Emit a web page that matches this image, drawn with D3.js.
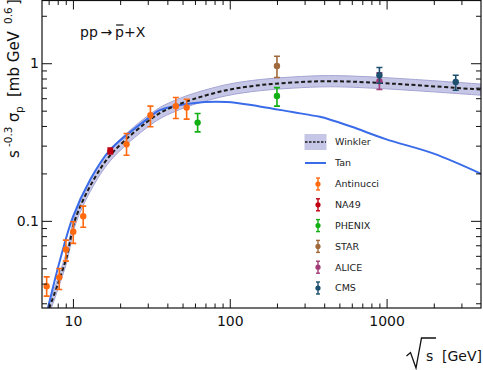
<!DOCTYPE html>
<html>
<head>
<meta charset="utf-8">
<style>
  body { margin: 0; background: #fff; }
  svg text { font-family: "DejaVu Sans", sans-serif; fill: #111; }
  .tick line { stroke: #111; stroke-width: 1px; }
  .tick text { font-size: 14px; }
  .legend text { font-size: 9.5px; fill: #222; }
</style>
</head>
<body>
<script src="https://d3js.org/d3.v7.min.js"></script>
<script>
// Winkler fit (dashed) and its band
var winklerS  = [7.07, 9.12, 10.3, 13.5, 18.1, 34.1, 45.6, 58, 95, 155, 251, 433, 900, 4000];
var winklerV  = [0.028, 0.059, 0.101, 0.181, 0.274, 0.468, 0.54, 0.59, 0.674, 0.726, 0.754, 0.769, 0.75, 0.68];
var winklerLo = [0.0258, 0.0544, 0.0931, 0.1668, 0.2525, 0.4313, 0.4977, 0.5438, 0.6212, 0.6691, 0.6949, 0.7088, 0.6912, 0.6267];
var winklerHi = [0.0304, 0.064, 0.1096, 0.1964, 0.2973, 0.5078, 0.5859, 0.6402, 0.7313, 0.7877, 0.8181, 0.8344, 0.8138, 0.7378];

// Tan curve
var tanS = [6.93, 8.26, 10, 12.83, 17.2, 30.9, 35.8, 58, 95.6, 155, 251, 375, 433, 600, 988, 2000, 4000];
var tanV = [0.028, 0.056, 0.106, 0.181, 0.281, 0.455, 0.504, 0.558, 0.568, 0.532, 0.49, 0.457, 0.44, 0.395, 0.33, 0.267, 0.199];

// measurements: sqrt(s), value, upper, lower
var antinucciS  = [6.8, 8.18, 9.02, 10.05, 11.63, 21.97, 31.2, 45.3, 53.1];
var antinucciV  = [0.0385, 0.0438, 0.0659, 0.0852, 0.107, 0.306, 0.468, 0.534, 0.524];
var antinucciHi = [0.0441, 0.0499, 0.0755, 0.0986, 0.124, 0.358, 0.534, 0.606, 0.591];
var antinucciLo = [0.0333, 0.0367, 0.0555, 0.072, 0.091, 0.261, 0.395, 0.446, 0.442];

var na49S = [17.3], na49V = [0.278], na49Hi = [0.29], na49Lo = [0.266];
var phenixS = [62.4, 200], phenixV = [0.42, 0.62], phenixHi = [0.48, 0.70], phenixLo = [0.367, 0.534];
var starS = [200], starV = [0.961], starHi = [1.107], starLo = [0.812];
var aliceS = [900], aliceV = [0.769], aliceHi = [0.868], aliceLo = [0.681];
var cmsS = [900, 2760], cmsV = [0.839, 0.761], cmsHi = [0.939, 0.839], cmsLo = [0.747, 0.674];

var xMajor = [10, 100, 1000];
var xMinor = [7, 8, 9, 20, 30, 40, 50, 60, 70, 80, 90, 200, 300, 400, 500, 600, 700, 800, 900, 2000, 3000];
var yMajor = [0.1, 1];
var yMinor = [0.03, 0.04, 0.05, 0.06, 0.07, 0.08, 0.09, 0.2, 0.3, 0.4, 0.5, 0.6, 0.7, 0.8, 0.9, 2];

var sets = [
  { name: "Antinucci", color: "#ff6a10", s: antinucciS, v: antinucciV, hi: antinucciHi, lo: antinucciLo },
  { name: "NA49",      color: "#c00010", s: na49S, v: na49V, hi: na49Hi, lo: na49Lo },
  { name: "PHENIX",    color: "#12b012", s: phenixS, v: phenixV, hi: phenixHi, lo: phenixLo },
  { name: "STAR",      color: "#a06a3c", s: starS, v: starV, hi: starHi, lo: starLo },
  { name: "ALICE",     color: "#a23c78", s: aliceS, v: aliceV, hi: aliceHi, lo: aliceLo },
  { name: "CMS",       color: "#1d4f6e", s: cmsS, v: cmsV, hi: cmsHi, lo: cmsLo }
];

var W = 483, H = 370;
var pLeft = 42, pRight = 481, pTop = 0.5, pBottom = 308;

var svg = d3.select("body").append("svg")
    .attr("width", W).attr("height", H);

var x = d3.scaleLog().domain([6.35, 4000]).range([pLeft, pRight]);
var y = d3.scaleLog().domain([0.028, 2.5]).range([pBottom, pTop]);

svg.append("clipPath").attr("id", "plotclip")
  .append("rect")
    .attr("x", pLeft).attr("y", pTop)
    .attr("width", pRight - pLeft).attr("height", pBottom - pTop);

var plot = svg.append("g").attr("clip-path", "url(#plotclip)");

// band
var band = winklerS.map(function (s, i) { return { s: s, lo: winklerLo[i], hi: winklerHi[i] }; });
plot.append("path")
    .datum(band)
    .attr("d", d3.area()
      .x(function (d) { return x(d.s); })
      .y0(function (d) { return y(d.lo); })
      .y1(function (d) { return y(d.hi); })
      .curve(d3.curveCatmullRom.alpha(0.5)))
    .style("fill", "#c6c6e6")
    .style("stroke", "#a4a4d4")
    .style("stroke-width", "1px");

// Tan
var line = d3.line()
    .x(function (d) { return x(d[0]); })
    .y(function (d) { return y(d[1]); })
    .curve(d3.curveCatmullRom.alpha(0.5));

plot.append("path")
    .attr("d", line(d3.zip(tanS, tanV)))
    .style("fill", "none")
    .style("stroke", "#3a6cea")
    .style("stroke-width", "2px");

// Winkler
plot.append("path")
    .attr("d", line(d3.zip(winklerS, winklerV)))
    .style("fill", "none")
    .style("stroke", "#1a1a1a")
    .style("stroke-width", "2px")
    .style("stroke-dasharray", "4,2.5");

// error bar points
function errorBars(g, set) {
  set.s.forEach(function (s, i) {
    var px = x(s);
    var e = g.append("g").style("stroke", set.color).style("stroke-width", "1.6px");
    e.append("line").attr("x1", px).attr("x2", px).attr("y1", y(set.lo[i])).attr("y2", y(set.hi[i]));
    e.append("line").attr("x1", px - 3).attr("x2", px + 3).attr("y1", y(set.lo[i])).attr("y2", y(set.lo[i]));
    e.append("line").attr("x1", px - 3).attr("x2", px + 3).attr("y1", y(set.hi[i])).attr("y2", y(set.hi[i]));
    g.append("circle").attr("cx", px).attr("cy", y(set.v[i])).attr("r", 3.2)
      .style("fill", set.color);
  });
}
sets.forEach(function (set) { errorBars(plot, set); });

// axes
function addAxis(axis, tx, ty, cls) {
  var g = svg.append("g").attr("class", cls)
      .attr("transform", "translate(" + tx + "," + ty + ")")
      .call(axis);
  g.select(".domain").remove();
  return g;
}

addAxis(d3.axisBottom(x).tickValues(xMajor).tickSize(-9).tickPadding(8).tickFormat(d3.format("d")), 0, pBottom, "x-axis");
addAxis(d3.axisBottom(x).tickValues(xMinor).tickSize(-4.5).tickFormat(""), 0, pBottom, "x-minor");
addAxis(d3.axisTop(x).tickValues(xMajor).tickSize(-9).tickFormat(""), 0, pTop, "x-top");
addAxis(d3.axisTop(x).tickValues(xMinor).tickSize(-4.5).tickFormat(""), 0, pTop, "x-top-minor");

addAxis(d3.axisLeft(y).tickValues(yMajor).tickSize(-10).tickPadding(3).tickFormat(d3.format("")), pLeft, 0, "y-axis");
addAxis(d3.axisLeft(y).tickValues(yMinor).tickSize(-5).tickFormat(""), pLeft, 0, "y-minor");
addAxis(d3.axisRight(y).tickValues(yMajor).tickSize(-10).tickFormat(""), pRight, 0, "y-right");
addAxis(d3.axisRight(y).tickValues(yMinor).tickSize(-5).tickFormat(""), pRight, 0, "y-right-minor");

svg.append("rect")
    .attr("x", pLeft).attr("y", pTop)
    .attr("width", pRight - pLeft).attr("height", pBottom - pTop)
    .style("fill", "none")
    .style("stroke", "#111")
    .style("stroke-width", "1.2px");

// y label, pieces placed along the rotated baseline
var yl = svg.append("g")
    .attr("transform", "translate(19,158) rotate(-90)");
var yParts = [
  { t: "s",       at: 0,   dy: 0,  fs: "15px" },
  { t: "-0.3",    at: 11,  dy: -7, fs: "10.5px" },
  { t: "\u03c3",  at: 36,  dy: 0,  fs: "15px" },
  { t: "p",       at: 45,  dy: 4,  fs: "10.5px" },
  { t: "[mb GeV", at: 61,  dy: 0,  fs: "15px" },
  { t: "0.6",     at: 134, dy: -7, fs: "10.5px" },
  { t: "]",       at: 153, dy: 0,  fs: "15px" }
];
yParts.forEach(function (p) {
  yl.append("text").attr("x", p.at).attr("y", p.dy)
    .style("font-size", p.fs).text(p.t);
});

// x label with radical
svg.append("path")
    .attr("d", "M406.5,356 L410.5,352.5 L416,368 L421.5,338 L436,338")
    .style("fill", "none")
    .style("stroke", "#111")
    .style("stroke-width", "1.3px");
svg.append("text").attr("x", 426).attr("y", 361).style("font-size", "14px").text("s");
svg.append("text").attr("x", 442).attr("y", 361).style("font-size", "14px").text("[GeV]");

// reaction label
var rx = svg.append("text")
    .attr("x", 80).attr("y", 37)
    .style("font-size", "14px")
    .text("pp\u2009\u2192\u2009p+X");
var pb = rx.node().getExtentOfChar(5);
svg.append("line")
    .attr("x1", pb.x + 1).attr("x2", pb.x + pb.width - 0.5)
    .attr("y1", 25).attr("y2", 25)
    .style("stroke", "#111").style("stroke-width", "1.2px");

// legend
var legend = svg.append("g").attr("class", "legend");
var lx = 305, lw = 21, textX = 335;
legend.append("rect")
    .attr("x", lx).attr("y", 134.5).attr("width", lw).attr("height", 15)
    .style("fill", "#c6c6e6").style("stroke", "#c6c6e6");
legend.append("line")
    .attr("x1", lx).attr("x2", lx + lw).attr("y1", 142).attr("y2", 142)
    .style("stroke", "#1a1a1a").style("stroke-width", "1.5px").style("stroke-dasharray", "2.5,1.5");
legend.append("text").attr("x", textX).attr("y", 145).text("Winkler");

legend.append("line")
    .attr("x1", lx).attr("x2", lx + lw).attr("y1", 163).attr("y2", 163)
    .style("stroke", "#3a6cea").style("stroke-width", "2px");
legend.append("text").attr("x", textX).attr("y", 166).text("Tan");

sets.forEach(function (set, i) {
  var cy = 184 + i * 20.8;
  var e = legend.append("g").style("stroke", set.color).style("stroke-width", "1.4px");
  e.append("line").attr("x1", 318).attr("x2", 318).attr("y1", cy - 6).attr("y2", cy + 6);
  e.append("line").attr("x1", 316).attr("x2", 320).attr("y1", cy - 6).attr("y2", cy - 6);
  e.append("line").attr("x1", 316).attr("x2", 320).attr("y1", cy + 6).attr("y2", cy + 6);
  legend.append("circle").attr("cx", 318).attr("cy", cy).attr("r", 2.6).style("fill", set.color);
  legend.append("text").attr("x", textX).attr("y", cy + 3.3).text(set.name);
});
</script>
</body>
</html>
